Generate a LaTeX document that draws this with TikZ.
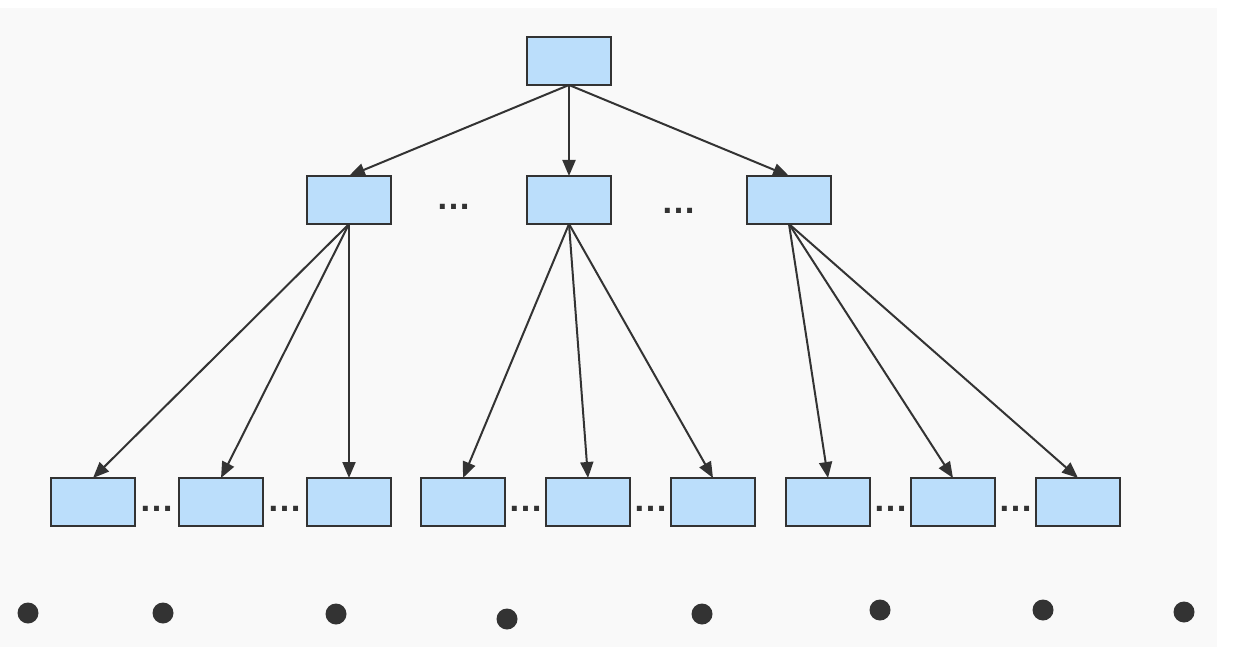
\documentclass[tikz,border=0pt]{standalone}
\usepackage{fontspec}
\setmainfont{Liberation Sans}
\usetikzlibrary{arrows.meta}
\definecolor{bgc}{HTML}{F9F9F9}
\definecolor{boxfill}{HTML}{BBDEFB}
\definecolor{ink}{HTML}{333333}
\tikzset{
  treebox/.style={draw=ink, fill=boxfill, line width=2pt, minimum width=84pt, minimum height=48pt, inner sep=0pt, outer sep=0pt},
  conn/.style={draw=ink, line width=2pt, -{Triangle[length=16pt,width=13pt]}},
  ell/.style={text=ink, inner sep=0pt, font=\fontsize{35}{35}\selectfont\bfseries},
  blob/.style={fill=ink}
}
\begin{document}
\begin{tikzpicture}[x=1pt,y=-1pt]
\useasboundingbox (0,0) rectangle (1260,647);
\fill[bgc] (0,8) rectangle (1217,647);
% top
\node[treebox] (r) at (569,61) {};
% middle
\node[treebox] (m1) at (349,200) {};
\node[treebox] (m2) at (569,200) {};
\node[treebox] (m3) at (789,200) {};
\node[ell] (d1) at (454,207) {…};
\node[ell] (d2) at (679,211) {…};
% bottom
\node[treebox] (b1) at (93,502) {};
\node[treebox] (b2) at (221,502) {};
\node[treebox] (b3) at (349,502) {};
\node[treebox] (b4) at (463,502) {};
\node[treebox] (b5) at (588,502) {};
\node[treebox] (b6) at (713,502) {};
\node[treebox] (b7) at (828,502) {};
\node[treebox] (b8) at (953,502) {};
\node[treebox] (b9) at (1078,502) {};
\node[ell] (e1) at (157,509) {…};
\node[ell] (e2) at (285,509) {…};
\node[ell] (e3) at (525.5,509) {…};
\node[ell] (e4) at (650.5,509) {…};
\node[ell] (e5) at (890.5,509) {…};
\node[ell] (e6) at (1015.5,509) {…};
% connectors
\draw[conn] (r.south) -- (m1.north);
\draw[conn] (r.south) -- (m2.north);
\draw[conn] (r.south) -- (m3.north);
\draw[conn] (m1.south) -- (b1.north);
\draw[conn] (m1.south) -- (b2.north);
\draw[conn] (m1.south) -- (b3.north);
\draw[conn] (m2.south) -- (b4.north);
\draw[conn] (m2.south) -- (b5.north);
\draw[conn] (m2.south) -- (b6.north);
\draw[conn] (m3.south) -- (b7.north);
\draw[conn] (m3.south) -- (b8.north);
\draw[conn] (m3.south) -- (b9.north);
% bottom blobs
\fill[blob] (28,613) circle (10.5);
\fill[blob] (163,613) circle (10.5);
\fill[blob] (336,614) circle (10.5);
\fill[blob] (507,619) circle (10.5);
\fill[blob] (702,614) circle (10.5);
\fill[blob] (880,610) circle (10.5);
\fill[blob] (1043,610) circle (10.5);
\fill[blob] (1184,612) circle (10.5);
\end{tikzpicture}
\end{document}
